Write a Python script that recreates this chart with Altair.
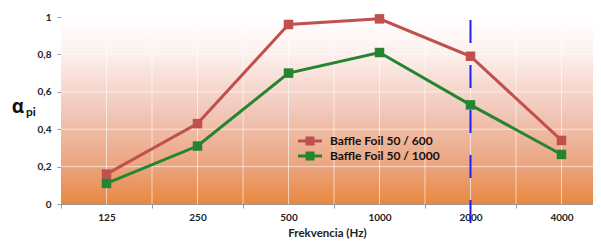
import json
import altair as alt
import pandas as pd

freqs = ["125", "250", "500", "1000", "2000", "4000"]
series_names = ["Baffle Foil 50 / 600", "Baffle Foil 50 / 1000"]
s600 = [0.16, 0.43, 0.96, 0.99, 0.79, 0.34]
s1000 = [0.11, 0.31, 0.70, 0.81, 0.53, 0.265]
colors = ["#C0504D", "#24842F"]
marker_freq = "2000"
y_ticks = [0, 0.2, 0.4, 0.6, 0.8, 1.0]

rows = []
for name, vals in zip(series_names, [s600, s1000]):
    for i, (f, v) in enumerate(zip(freqs, vals)):
        rows.append({"idx": i, "freq": f, "value": v, "series": name})
df = pd.DataFrame(rows)

W, H = 532, 187
FONT = "Lato"
n = len(freqs)
step = 91.0
xmax = -0.5 + W / step

xscale = alt.Scale(domain=[-0.5, xmax], nice=False, zero=False)
yscale = alt.Scale(domain=[0, 1], nice=False)

grid_vals = [k / 2 for k in range(-1, 2 * n)]
label_expr = ("datum.value % 1 === 0 && datum.value >= 0 && datum.value < " + str(n)
              + " ? " + json.dumps(freqs) + "[datum.value] : ''")

x_axis = alt.Axis(
    values=grid_vals, labelExpr=label_expr, title="Frekvencia (Hz)", grid=False,
    tickOpacity={"condition": {"test": "datum.value % 1 !== 0", "value": 1}, "value": 0},
    tickSize=4, tickColor="#999999", domainColor="#999999",
    labelFont=FONT, labelFontSize=10, labelFontWeight="bold", labelColor="#222222",
    labelPadding=4, titleFont=FONT, titleFontSize=11.5, titleFontWeight="bold",
    titleColor="#222222", titlePadding=5, labelOverlap=False, labelFlush=False,
)
y_axis = alt.Axis(
    values=y_ticks, format=".1~f",
    labelExpr="replace(datum.label, '.', ',')", title=None, grid=False,
    tickSize=4, tickColor="#999999", domainColor="#999999",
    labelFont=FONT, labelFontSize=10, labelFontWeight="bold", labelColor="#222222",
    labelPadding=6,
)

bg = alt.Chart(alt.Data(values=[{}])).mark_rect(
    fill=alt.Gradient(
        gradient="linear", x1=0, x2=0, y1=0, y2=1,
        stops=[
            alt.GradientStop(offset=0.0, color="#FFFFFF"),
            alt.GradientStop(offset=0.18, color="#FDF2EF"),
            alt.GradientStop(offset=0.5, color="#F1C8BA"),
            alt.GradientStop(offset=0.8, color="#EBA47E"),
            alt.GradientStop(offset=1.0, color="#E8883F"),
        ],
    )
).encode(x=alt.value(0), x2=alt.value(W), y=alt.value(0), y2=alt.value(H))

vgrid = alt.Chart(alt.Data(values=[{"g": g} for g in grid_vals if g > -0.5])).mark_rule(
    color="white", opacity=0.6, strokeWidth=1
).encode(x=alt.X("g:Q", scale=xscale, axis=x_axis))
hgrid = alt.Chart(alt.Data(values=[{"g": g} for g in y_ticks if g > 0])).mark_rule(
    color="white", opacity=0.6, strokeWidth=1
).encode(y=alt.Y("g:Q", scale=yscale, axis=y_axis))

color_scale = alt.Scale(domain=series_names, range=colors)

base = alt.Chart(df).encode(
    x=alt.X("idx:Q", scale=xscale, axis=x_axis),
    y=alt.Y("value:Q", scale=yscale, axis=y_axis),
)

line_layers = [
    base.transform_filter(alt.datum.series == name).mark_line(strokeWidth=3, color=col)
    for name, col in zip(series_names, colors)
]

legend_path = "M-2,-0.25H2V0.25H-2Z M-0.75,-0.75H0.75V0.75H-0.75Z"
points = base.mark_point(shape="square", filled=True, size=90, opacity=1).encode(
    color=alt.Color(
        "series:N", scale=color_scale,
        legend=alt.Legend(
            title=None, orient="none", legendX=243, legendY=118,
            symbolType=legend_path, symbolSize=144, symbolStrokeWidth=0,
            symbolOpacity=1, labelFont=FONT, labelFontSize=12, labelFontWeight="bold",
            labelColor="#111111", labelOffset=14, rowPadding=3, padding=0,
        ),
    )
)

marker = alt.Chart(alt.Data(values=[{"freq": marker_freq}])).transform_calculate(
    idx="indexof(" + json.dumps(freqs) + ", datum.freq)"
).mark_rule(color="#1F1FF5", strokeWidth=2, strokeDash=[23, 22]).encode(
    x=alt.X("idx:Q", scale=xscale), y=alt.value(3), y2=alt.value(H + 19)
)

alpha = alt.Chart(alt.Data(values=[{}])).mark_text(
    text="α", font="Open Sans", fontSize=19, fontWeight="bold", align="center",
    baseline="alphabetic", color="#111111"
).encode(x=alt.value(-43), y=alt.value(96))
pi = alt.Chart(alt.Data(values=[{}])).mark_text(
    text="pi", font=FONT, fontSize=12, fontWeight="bold", align="left",
    baseline="alphabetic", color="#111111"
).encode(x=alt.value(-35), y=alt.value(99))

chart = alt.layer(bg, vgrid, hgrid, *line_layers, points, marker, alpha, pi).properties(
    width=W, height=H, background="white",
    autosize=alt.AutoSizeParams(type="none"),
    padding={"left": 53, "top": 9, "right": 0, "bottom": 40},
).configure_view(stroke=None)

chart.save("out.html", embed_options={"renderer": "svg", "actions": False})
